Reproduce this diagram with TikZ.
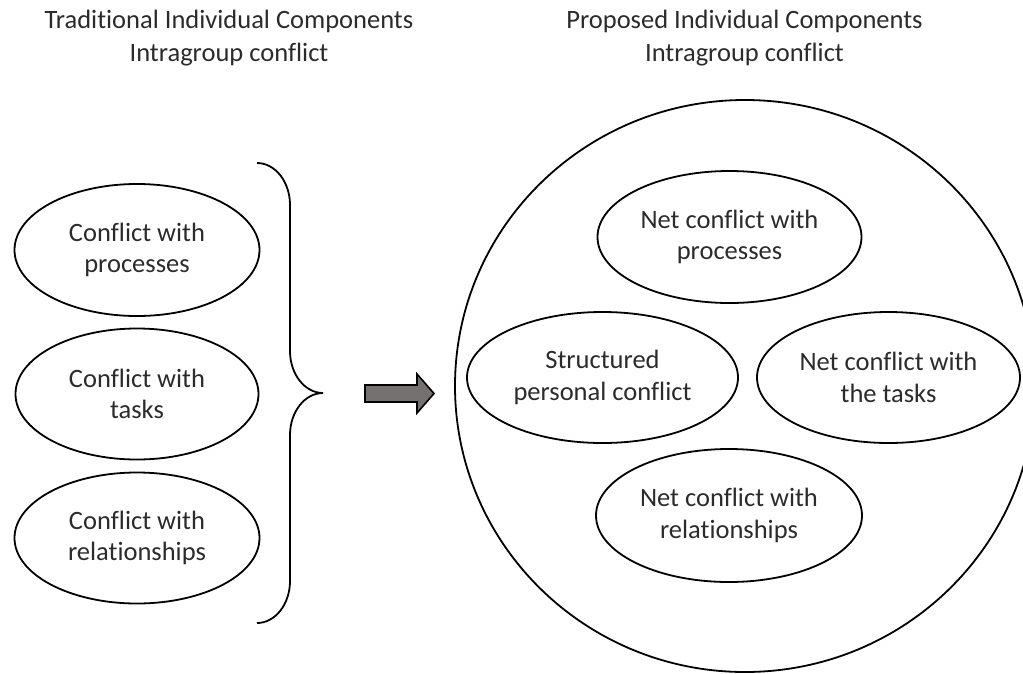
\documentclass[tikz,border=0pt]{standalone}
\usepackage{fontspec}
\setmainfont{Carlito}[Ligatures=NoCommon]
\usetikzlibrary{shapes.geometric}
\definecolor{txt}{HTML}{2B2B2B}
\definecolor{arrowgray}{HTML}{767171}
\begin{document}
\begin{tikzpicture}[x=1pt,y=-1pt,
  oval/.style={ellipse, draw, line width=1.8pt, inner sep=0pt, align=center,
    text=txt, font=\fontsize{26.5}{31.5}\selectfont},
  titletext/.style={align=center, text=txt, inner sep=0pt,
    font=\fontsize{26.5}{33}\selectfont},
  outline/.style={line width=1.8pt}]
\path[use as bounding box] (0,0) rectangle (1023,673);
\clip (0,0) rectangle (1023,673);

% titles
\node[titletext] (t1) at (229,38) {Traditional Individual Components\\Intragroup conflict};
\node[titletext] (t2) at (744.5,38) {Proposed Individual Components\\Intragroup conflict};

% left ellipses
\node[oval, minimum width=245pt, minimum height=132pt] (a1) at (137,250) {Conflict with\\processes};
\node[oval, minimum width=243pt, minimum height=131pt] (a2) at (137,394) {Conflict with\\tasks};
\node[oval, minimum width=245pt, minimum height=131pt] (a3) at (137,538) {Conflict with\\relationships};

% brace
\draw[outline] (257,163) .. controls (275.2,163) and (290,181.8) .. (290,205)
  -- (290,351) .. controls (290,374.2) and (304.8,393) .. (323,393)
  coordinate (tip)
  .. controls (304.8,393) and (290,411.8) .. (290,435)
  -- (290,581) .. controls (290,604.2) and (275.2,623) .. (257,623);

% arrow
\draw[line width=1.6pt, fill=arrowgray] (365,385) -- (417,385) -- (417,374)
  -- (434,393.5) -- (417,413) -- (417,402) -- (365,402) -- cycle;

% big circle
\node[ellipse, draw, line width=1.8pt, inner sep=0pt, minimum width=580pt,
  minimum height=572pt] (outer) at (745,386) {};

% inner ellipses
\node[oval, minimum width=264pt, minimum height=132pt] (b1) at (729.5,237) {Net conflict with\\processes};
\node[oval, minimum width=271pt, minimum height=131pt] (b2) at (602.5,377.5) {Structured\\personal conflict};
\node[oval, minimum width=263pt, minimum height=131pt] (b3) at (888.5,377.5) {Net conflict with\\the tasks};
\node[oval, minimum width=266pt, minimum height=133pt] (b4) at (729,515.5) {Net conflict with\\relationships};
\end{tikzpicture}
\end{document}
